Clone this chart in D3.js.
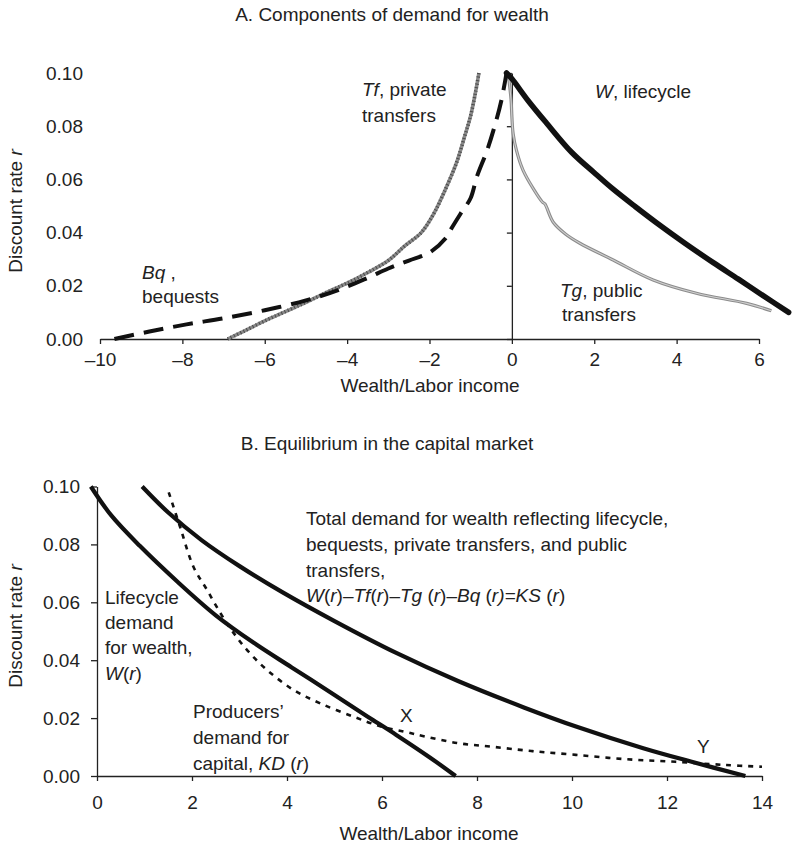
<!DOCTYPE html>
<html><head><meta charset="utf-8">
<script src="https://cdn.jsdelivr.net/npm/d3@7"></script>
<style>
body{margin:0;background:#fff;}
svg{display:block;font-family:"Liberation Sans",Arial,Helvetica,sans-serif;}
text{fill:#222;}
</style></head>
<body><svg id="c" width="792" height="847"></svg>
<script>
// ---------- Panel A data: [wealth/labor income, discount rate] ----------
const lifecycleA = [[-0.13,0.100],[0.0,0.0978],[0.4,0.0895],[0.84,0.0812],[1.45,0.0702],[2.0,0.0625],[2.46,0.0563],[3.0,0.0497],[3.51,0.0437],[4.2,0.036],[4.89,0.0287],[5.5,0.0225],[6.1,0.0163],[6.72,0.0100]];
const publicTransfersA = [[-0.09,0.100],[-0.02,0.090],[0.0,0.0836],[0.03,0.0773],[0.11,0.071],[0.27,0.0635],[0.52,0.0565],[0.74,0.0515],[0.8,0.0508],[1.0,0.0440],[1.3,0.0395],[1.65,0.036],[2.46,0.0297],[3.43,0.0222],[4.48,0.0172],[5.7,0.0134],[6.3,0.0106]];
const privateTransfersA = [[-6.9,0.000],[-6.5,0.003],[-6.0,0.0068],[-5.5,0.0103],[-5.0,0.0138],[-4.5,0.0175],[-4.0,0.021],[-3.5,0.025],[-3.0,0.0295],[-2.6,0.035],[-2.2,0.040],[-1.9,0.047],[-1.65,0.055],[-1.35,0.066],[-1.15,0.076],[-1.0,0.084],[-0.88,0.093],[-0.8,0.100]];
const bequestsA = [[-9.65,0.000],[-8.8,0.0028],[-7.9,0.0055],[-7.0,0.0078],[-6.0,0.0108],[-5.0,0.0145],[-4.2,0.0185],[-3.5,0.023],[-3.0,0.0265],[-2.5,0.0295],[-2.0,0.0325],[-1.6,0.038],[-1.45,0.042],[-1.25,0.047],[-1.0,0.053],[-0.85,0.061],[-0.6,0.071],[-0.4,0.081],[-0.25,0.090],[-0.13,0.100]];
const xTicksA = [-10,-8,-6,-4,-2,0,2,4,6];
const yTicks = [0,0.02,0.04,0.06,0.08,0.10];

// ---------- Panel B data ----------
const lifecycleB = [[-0.13,0.100],[0.3,0.090],[0.9,0.0795],[1.7,0.067],[2.5,0.0555],[3.3,0.046],[4.1,0.0375],[5.0,0.028],[5.7,0.0205],[6.3,0.0142],[7.0,0.0065],[7.55,0.000]];
const totalDemandB = [[0.95,0.100],[1.5,0.091],[2.2,0.0815],[3.0,0.0725],[3.9,0.0635],[5.0,0.0535],[6.3,0.0425],[7.6,0.0328],[9.0,0.0236],[10.1,0.017],[11.5,0.0096],[12.5,0.005],[13.65,0.000]];
const capitalDemandB = [[1.51,0.098],[1.75,0.086],[2.03,0.0723],[2.32,0.0642],[2.6,0.0562],[2.85,0.050],[3.16,0.0435],[3.58,0.0366],[4.14,0.0297],[4.7,0.0251],[5.4,0.0205],[5.96,0.0172],[6.5,0.0152],[6.92,0.0136],[7.62,0.0113],[8.32,0.0101],[9.16,0.0086],[10.08,0.0073],[11.13,0.0058],[12.18,0.0049],[13.23,0.0038],[14.0,0.0032]];
const xTicksB = [0,2,4,6,8,10,12,14];

const svg = d3.select("#c");
const fmtY = d3.format(".2f");
const fmtX = d => d < 0 ? "\u2013" + Math.abs(d) : String(d);
const FS = 19;

// ================= PANEL A =================
const xA = d3.scaleLinear().domain([-10,6]).range([100,759]);
const yA = d3.scaleLinear().domain([0,0.1]).range([339,73]);

svg.append("text").attr("x",392).attr("y",14).attr("dy","0.35em").attr("text-anchor","middle")
  .attr("font-size",FS).text("A. Components of demand for wealth");

const gxA = svg.append("g").attr("transform",`translate(0,${yA(0)})`)
  .call(d3.axisBottom(xA).tickValues(xTicksA).tickSize(5).tickSizeOuter(0).tickPadding(9).tickFormat(fmtX));
const gyA = svg.append("g").attr("transform",`translate(${xA(0)},0)`)
  .call(d3.axisLeft(yA).tickValues(yTicks).tickSize(5).tickSizeOuter(0).tickFormat(""));
svg.append("g").attr("transform","translate(83,0)")
  .call(d3.axisLeft(yA).tickValues(yTicks).tickSize(0).tickPadding(0).tickFormat(fmtY))
  .call(g=>g.select(".domain").remove());

svg.append("text").attr("x",430).attr("y",385).attr("dy","0.35em").attr("text-anchor","middle")
  .attr("font-size",FS).text("Wealth/Labor income");
const ytA = svg.append("text").attr("transform","translate(22,211) rotate(-90)").attr("text-anchor","middle").attr("font-size",FS);
ytA.append("tspan").text("Discount rate ");
ytA.append("tspan").attr("font-style","italic").text("r");

const lineA = d3.line().x(d=>xA(d[0])).y(d=>yA(d[1])).curve(d3.curveCatmullRom.alpha(0.5));

svg.append("path").datum(publicTransfersA).attr("d",lineA).attr("fill","none").attr("stroke","#8c8c8c").attr("stroke-width",3.2);
svg.append("path").datum(publicTransfersA).attr("d",lineA).attr("fill","none").attr("stroke","#d0d0d0").attr("stroke-width",1.1);
svg.append("path").datum(privateTransfersA).attr("d",lineA).attr("fill","none").attr("stroke","#8a8a8a").attr("stroke-width",3.6);
svg.append("path").datum(privateTransfersA).attr("d",lineA).attr("fill","none").attr("stroke","#4a4a4a").attr("stroke-width",3.6).attr("stroke-dasharray","1 2.5");
svg.append("path").datum(bequestsA).attr("d",lineA).attr("fill","none").attr("stroke","#111").attr("stroke-width",4).attr("stroke-dasharray","20 10");
svg.append("path").datum(lifecycleA).attr("d",lineA).attr("fill","none").attr("stroke","#111").attr("stroke-width",5.5).attr("stroke-linecap","round");

[gxA,gyA].forEach(g=>{g.selectAll("path,line").attr("stroke","#222").attr("stroke-width",1.3);});
svg.selectAll("g.tick text").attr("font-size",FS).attr("fill","#222");
svg.selectAll("g").attr("font-family",null).attr("font-size",null);

function label(x,y,parts){
  const t = svg.append("text").attr("x",x).attr("y",y).attr("dy","0.35em").attr("font-size",FS);
  parts.forEach(p=>{const s=t.append("tspan").text(p[0]); if(p[1]) s.attr("font-style","italic");});
  return t;
}
label(362,89,[["Tf",1],[", private"]]);
label(362,115,[["transfers"]]);
label(595,91,[["W",1],[", lifecycle"]]);
label(560,290,[["Tg",1],[", public"]]);
label(562,314,[["transfers"]]);
label(142,272,[["Bq",1],[" ,"]]);
label(142,296,[["bequests"]]);

// ================= PANEL B =================
const xB = d3.scaleLinear().domain([0,14]).range([97,762]);
const yB = d3.scaleLinear().domain([0,0.1]).range([776,486.5]);

svg.append("text").attr("x",387).attr("y",443).attr("dy","0.35em").attr("text-anchor","middle")
  .attr("font-size",FS).text("B. Equilibrium in the capital market");

const gxB = svg.append("g").attr("transform",`translate(0,${yB(0)})`)
  .call(d3.axisBottom(xB).tickValues(xTicksB).tickSize(5).tickSizeOuter(0).tickPadding(15).tickFormat(fmtX));
const gyB = svg.append("g").attr("transform",`translate(${xB(0)},0)`)
  .call(d3.axisLeft(yB).tickValues(yTicks).tickSize(6).tickSizeOuter(0).tickPadding(11).tickFormat(fmtY));
[gxB,gyB].forEach(g=>{g.selectAll("path,line").attr("stroke","#222").attr("stroke-width",1.3);});
svg.selectAll("g.tick text").attr("font-size",FS).attr("fill","#222");
svg.selectAll("g").attr("font-family",null).attr("font-size",null);

svg.append("text").attr("x",429).attr("y",833).attr("dy","0.35em").attr("text-anchor","middle")
  .attr("font-size",FS).text("Wealth/Labor income");
const ytB = svg.append("text").attr("transform","translate(22,626) rotate(-90)").attr("text-anchor","middle").attr("font-size",FS);
ytB.append("tspan").text("Discount rate ");
ytB.append("tspan").attr("font-style","italic").text("r");

const lineB = d3.line().x(d=>xB(d[0])).y(d=>yB(d[1])).curve(d3.curveCatmullRom.alpha(0.5));
svg.append("path").datum(capitalDemandB).attr("d",lineB).attr("fill","none").attr("stroke","#111").attr("stroke-width",2.6).attr("stroke-dasharray","5 6");
svg.append("path").datum(lifecycleB).attr("d",lineB).attr("fill","none").attr("stroke","#111").attr("stroke-width",4.2);
svg.append("path").datum(totalDemandB).attr("d",lineB).attr("fill","none").attr("stroke","#111").attr("stroke-width",4.2);

label(306,518,[["Total demand for wealth reflecting lifecycle,"]]);
label(306,544,[["bequests, private transfers, and public"]]);
label(306,570,[["transfers,"]]);
label(306,595,[["W",1],["("],["r",1],[")"],["\u2013"],["Tf",1],["("],["r",1],[")"],["\u2013"],["Tg",1],[" ("],["r",1],[")"],["\u2013"],["Bq",1],[" ("],["r",1],[")=",1],["KS",1],[" ("],["r",1],[")"]]);
label(105,597,[["Lifecycle"]]);
label(105,622,[["demand"]]);
label(105,647,[["for wealth,"]]);
label(105,673,[["W",1],["("],["r",1],[")"]]);
label(193,711,[["Producers\u2019"]]);
label(193,737,[["demand for"]]);
label(193,763,[["capital, "],["KD",1],[" ("],["r",1],[")"]]);
label(400,715,[["X"]]);
label(697,746,[["Y"]]);
</script></body></html>
